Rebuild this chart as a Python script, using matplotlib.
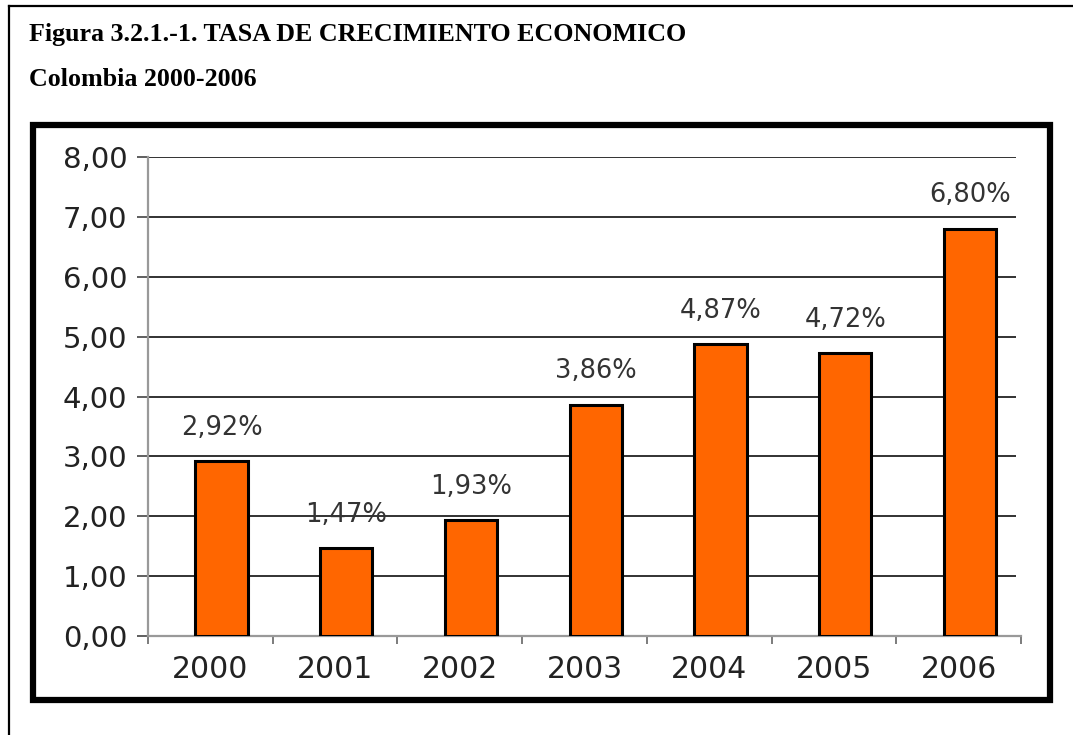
import matplotlib
matplotlib.use('Agg')
import matplotlib.pyplot as plt
from matplotlib.patches import Rectangle
from matplotlib.lines import Line2D

years = ['2000', '2001', '2002', '2003', '2004', '2005', '2006']
growth = [2.92, 1.47, 1.93, 3.86, 4.87, 4.72, 6.80]
value_labels = ['2,92%', '1,47%', '1,93%', '3,86%', '4,87%', '4,72%', '6,80%']
y_ticks = [0, 1, 2, 3, 4, 5, 6, 7, 8]
y_tick_labels = ['0,00', '1,00', '2,00', '3,00', '4,00', '5,00', '6,00', '7,00', '8,00']

W, H = 1073, 735
fig = plt.figure(figsize=(W / 100, H / 100), dpi=100)
fig.patch.set_facecolor('white')

# page frame (only top and left edges fall inside the sheet)
fig.add_artist(Line2D([9 / W, 1.0], [1 - 6 / H, 1 - 6 / H], color='black', lw=1.6))
fig.add_artist(Line2D([9 / W, 9 / W], [1 - 6 / H, 0.0], color='black', lw=1.6))

# caption
serif = 'Liberation Serif'
fig.text(29 / W, 1 - 41 / H, 'Figura 3.2.1.-1. TASA DE CRECIMIENTO ECONOMICO',
         family=serif, weight='bold', fontsize=18.7, va='baseline', ha='left')
fig.text(29 / W, 1 - 86 / H, 'Colombia 2000-2006',
         family=serif, weight='bold', fontsize=18.7, va='baseline', ha='left')

# thick chart border
fig.add_artist(Rectangle((33 / W, 1 - 700 / H), (1050 - 33) / W, (700 - 125) / H,
                         transform=fig.transFigure, fill=False, ec='black', lw=4.5))

ax = fig.add_axes([148 / W, 1 - 636 / H, (1021 - 148) / W, (636 - 157) / H])
ax.set_xlim(0, 7)
ax.set_ylim(0, 8)

# horizontal grid
ax.hlines(y_ticks[1:], 0, 6.96, colors='#222222', lw=1.3, zorder=1)

centers = [i + 0.5 for i in range(len(years))]
bar_pos = [c + 0.09 for c in centers]
ax.bar(bar_pos, growth, width=0.42, color='#FF6600', edgecolor='black', lw=2.2, zorder=3)

for x, v, lab in zip(bar_pos, growth, value_labels):
    ax.annotate(lab, (x, v), xytext=(0, 19), textcoords='offset points',
                ha='center', va='baseline', fontsize=18.5, color='#333333',
                family='DejaVu Sans')

for side in ['top', 'right']:
    ax.spines[side].set_visible(False)
ax.spines['left'].set_color('#999999')
ax.spines['left'].set_linewidth(1.6)
ax.spines['bottom'].set_color('#999999')
ax.spines['bottom'].set_linewidth(1.6)

ax.set_yticks(y_ticks)
ax.set_yticklabels(y_tick_labels)
ax.tick_params(axis='y', length=8, width=1.2, color='#444444', labelsize=21,
               labelcolor='#222222', pad=7)

ax.set_xticks(range(8))
ax.set_xticklabels([])
ax.set_xticks(centers, minor=True)
ax.set_xticklabels(years, minor=True)
ax.tick_params(axis='x', which='major', length=6, width=1.2, color='#666666')
ax.tick_params(axis='x', which='minor', length=0, labelsize=21.5,
               labelcolor='#222222', pad=14)

fig.savefig('out.png', dpi=100, facecolor='white')
